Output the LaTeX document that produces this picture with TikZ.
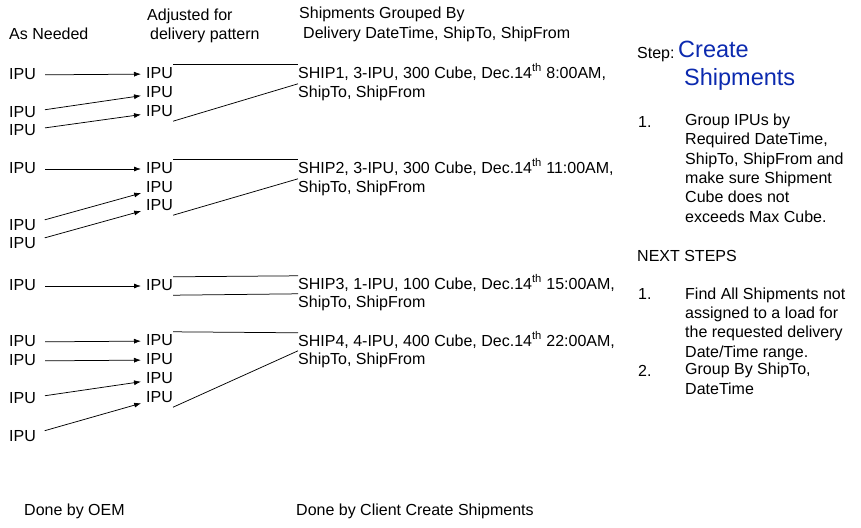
\documentclass[tikz,border=0pt]{standalone}
\usepackage{fontspec}
\setmainfont{Liberation Sans}
\usetikzlibrary{arrows,arrows.meta}
\definecolor{stepblue}{RGB}{12,42,175}

\begin{document}
\begin{tikzpicture}[x=1pt,y=-1pt,
	lbl/.style={anchor=base west, inner sep=0pt, font=\fontsize{16}{19.3}\selectfont},
	row/.style={lbl, inner ysep=2pt, text height=11pt, text depth=3pt},
	big/.style={lbl, font=\fontsize{23.5}{27}\selectfont, text=stepblue},
	feed/.style={-{Latex[length=7pt,width=5pt]}, line width=0.75pt, shorten <=9pt, shorten >=5pt},
	bracket/.style={line width=0.75pt}]
	\useasboundingbox (0,0) rectangle (861,527);
	% column heads
	\node (h1) at (9,40) [lbl] {As Needed};
	\node (h2) at (147,21) [lbl] {Adjusted for};
	\node (h2b) at (150,40) [lbl] {delivery pattern};
	\node (h3) at (299,19) [lbl] {Shipments Grouped By};
	\node (h3b) at (303,38) [lbl] {Delivery DateTime, ShipTo, ShipFrom};
	% as needed
	\node (l1) at (9,79) [row] {IPU};
	\node (l2) at (9,117) [row] {IPU};
	\node (l3) at (9,135) [row] {IPU};
	\node (l4) at (9,173) [row] {IPU};
	\node (l5) at (9,230) [row] {IPU};
	\node (l6) at (9,248) [row] {IPU};
	\node (l7) at (9,290) [row] {IPU};
	\node (l8) at (9,346) [row] {IPU};
	\node (l9) at (9,365) [row] {IPU};
	\node (l10) at (9,403) [row] {IPU};
	\node (l11) at (9,441) [row] {IPU};
	% adjusted
	\node (m1) at (146,78) [row] {IPU};
	\node (m2) at (146,97) [row] {IPU};
	\node (m3) at (146,116) [row] {IPU};
	\node (m4) at (146,173) [row] {IPU};
	\node (m5) at (146,192) [row] {IPU};
	\node (m6) at (146,210) [row] {IPU};
	\node (m7) at (146,290) [row] {IPU};
	\node (m8) at (146,345) [row] {IPU};
	\node (m9) at (146,364) [row] {IPU};
	\node (m10) at (146,383) [row] {IPU};
	\node (m11) at (146,402) [row] {IPU};
	% shipments
	\node (s1) at (298,78) [row] {SHIP1, 3-IPU, 300 Cube, Dec.14\textsuperscript{th} 8:00AM,};
	\node (s1b) at (298,97) [row] {ShipTo, ShipFrom};
	\node (s2) at (298,173) [row] {SHIP2, 3-IPU, 300 Cube, Dec.14\textsuperscript{th} 11:00AM,};
	\node (s2b) at (298,192) [row] {ShipTo, ShipFrom};
	\node (s3) at (298,289) [row] {SHIP3, 1-IPU, 100 Cube, Dec.14\textsuperscript{th} 15:00AM,};
	\node (s3b) at (298,307) [row] {ShipTo, ShipFrom};
	\node (s4) at (298,346) [row] {SHIP4, 4-IPU, 400 Cube, Dec.14\textsuperscript{th} 22:00AM,};
	\node (s4b) at (298,364) [row] {ShipTo, ShipFrom};
	% step notes (multi-line nodes sit on their last line)
	\node (step) at (637,59) [lbl] {Step:};
	\node (create) at (678,58) [big] {Create};
	\node (shipments) at (684,85) [big] {Shipments};
	\node (n1) at (638,127) [lbl] {1.};
	\node (t1) at (685,222) [lbl, align=left]
		{Group IPUs by\\Required DateTime,\\ShipTo, ShipFrom and\\make sure Shipment\\Cube does not\\exceeds Max Cube.};
	\node (next) at (637,261) [lbl] {NEXT STEPS};
	\node (n2) at (638,299) [lbl] {1.};
	\node (t2) at (685,357) [lbl, align=left]
		{Find All Shipments not\\assigned to a load for\\the requested delivery\\Date/Time range.};
	\node (n3) at (638,376) [lbl] {2.};
	\node (t3) at (685,394) [lbl, align=left] {Group By ShipTo,\\DateTime};
	% footers
	\node (f1) at (24,515) [lbl] {Done by OEM};
	\node (f2) at (296,515) [lbl] {Done by Client Create Shipments};
	% feeds
	\draw [feed] (l1) to (m1);
	\draw [feed] (l2) to (m2);
	\draw [feed] (l3) to (m3);
	\draw [feed] (l4) to (m4);
	\draw [feed] (l5) to (m5);
	\draw [feed] (l6) to (m6);
	\draw [feed] (l7) to (m7);
	\draw [feed] (l8) to (m8);
	\draw [feed] (l9) to (m9);
	\draw [feed] (l10) to (m10);
	\draw [feed] (l11) to (m11);
	% groupings
	\draw [bracket] (m1.north east) to (s1.north west);
	\draw [bracket] (m3.south east) to (s1b.north west);
	\draw [bracket] (m4.north east) to (s2.north west);
	\draw [bracket] (m6.south east) to (s2b.north west);
	\draw [bracket] (m7.north east) to (s3.north west);
	\draw [bracket] (m7.south east) to (s3b.north west);
	\draw [bracket] (m8.north east) to (s4.north west);
	\draw [bracket] (m11.south east) to (s4b.north west);
\end{tikzpicture}
\end{document}
